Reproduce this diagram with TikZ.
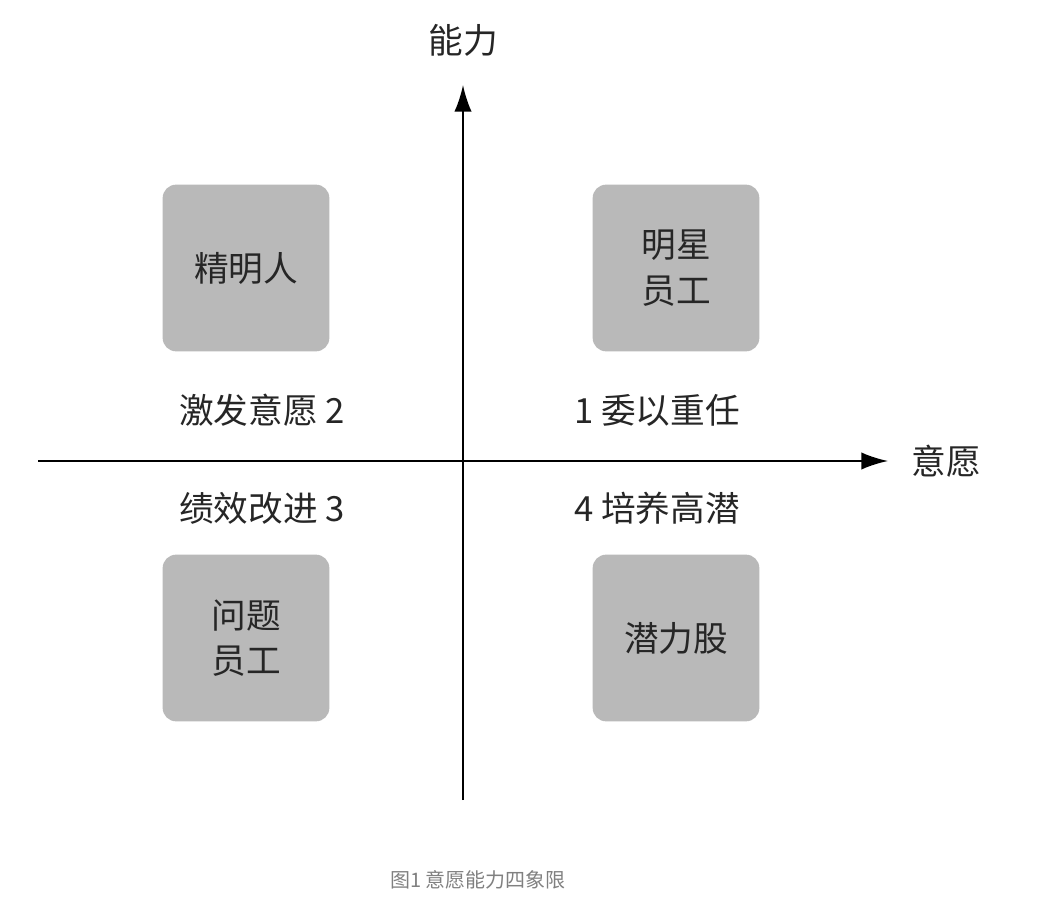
\documentclass[tikz,border=0pt]{standalone}
\usepackage{fontspec}
\newfontfamily\cjk{Noto Sans CJK SC}[Scale=1]
\usetikzlibrary{arrows.meta}
\begin{document}
\begin{tikzpicture}[x=0.75pt,y=-0.75pt,
  box/.style={fill=gray!55!white,rounded corners=10pt,minimum width=125pt,minimum height=125pt,align=center,font=\cjk\fontsize{26}{34}\selectfont,text=black!85},
  lab/.style={font=\cjk\fontsize{26}{30}\selectfont,text=black!85},
  ax/.style={line width=1.5pt,-{Latex[length=20pt,width=13pt]}}]
\useasboundingbox (0,0) rectangle (1048,912);
\coordinate (vb) at (463,800); \coordinate (vt) at (463,85);
\coordinate (hl) at (38,461); \coordinate (hr) at (888,461);
\draw[ax] (vb) -- (vt);
\draw[ax] (hl) -- (hr);
\node[lab] (ya) at (463,40) {能力};
\node[lab] (xa) at (946,461) {意愿};
\node[box] (b1) at (246,268) {精明人};
\node[box] (b2) at (676,268) {明星\\员工};
\node[box] (b3) at (246,638) {问题\\员工};
\node[box] (b4) at (676,638) {潜力股};
\node[lab] (t2) at (262,410) {激发意愿 2};
\node[lab] (t1) at (657,410) {1 委以重任};
\node[lab] (t3) at (262,508) {绩效改进 3};
\node[lab] (t4) at (657,508) {4 培养高潜};
\node[font=\cjk\fontsize{15}{18}\selectfont,text=gray] (cap) at (478,880) {图1 意愿能力四象限};
\end{tikzpicture}
\end{document}
